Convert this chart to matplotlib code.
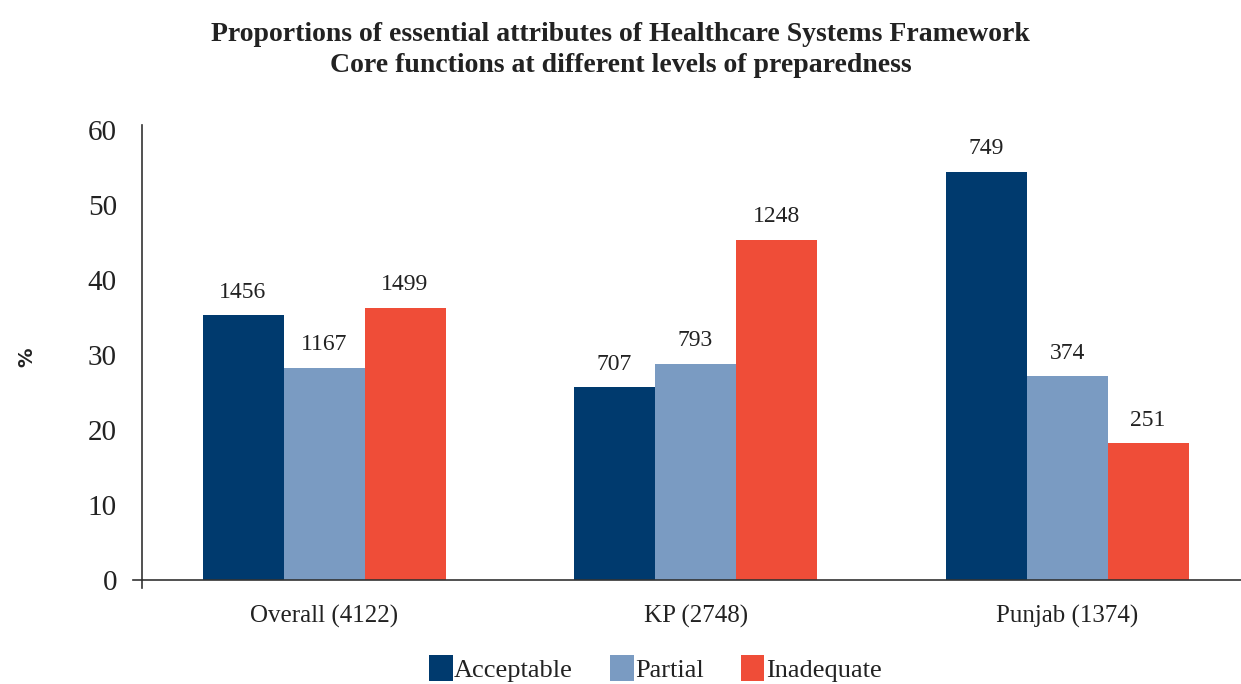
import matplotlib
matplotlib.use("Agg")
import matplotlib.pyplot as plt
import numpy as np

categories = ["Overall (4122)", "KP (2748)", "Punjab (1374)"]
totals = [4122, 2748, 1374]
series_names = ["Acceptable", "Partial", "Inadequate"]
acceptable_n = [1456, 707, 749]
partial_n = [1167, 793, 374]
inadequate_n = [1499, 1248, 251]
colors = ["#003a6e", "#7a9bc2", "#ef4d38"]
yticks = [0, 10, 20, 30, 40, 50, 60]

title = ("Proportions of essential attributes of Healthcare Systems Framework\n"
         "Core functions at different levels of preparedness")

serif = ["Liberation Serif", "DejaVu Serif"]
text_color = "#222222"

fig = plt.figure(figsize=(12.41, 6.84), dpi=100)
ax = fig.add_axes([0.1144, 0.152, 0.8856, 0.665])

x = np.arange(len(categories))
width = 0.218
counts = [acceptable_n, partial_n, inadequate_n]
for i, (name, c, col) in enumerate(zip(series_names, counts, colors)):
    pct = np.array(c) / np.array(totals) * 100
    bars = ax.bar(x + (i - 1) * width, pct, width, color=col, label=name)
    ax.bar_label(bars, labels=[str(v) for v in c], padding=9,
                 fontsize=17, family=serif, color=text_color)

ax.set_xlim(-0.49, 2.468)
ax.set_ylim(0, 60.7)
ax.set_yticks(yticks)
ax.set_yticklabels([str(t) for t in yticks], family=serif, fontsize=21, color=text_color)
ax.set_xticks(x)
ax.set_xticklabels(categories, family=serif, fontsize=18, color=text_color)
ax.tick_params(axis="both", length=0)
ax.tick_params(axis="y", pad=18)
ax.tick_params(axis="x", pad=18)
for s in ["top", "right"]:
    ax.spines[s].set_visible(False)
for s in ["left", "bottom"]:
    ax.spines[s].set_color("#333333")
    ax.spines[s].set_linewidth(1.2)
# small spine overhangs at the origin
ax.plot([-0.515, -0.49], [0, 0], color="#333333", lw=1.2, clip_on=False)
ax.plot([-0.49, -0.49], [0, -1.1], color="#333333", lw=1.2, clip_on=False)

fig.text(0.022, 0.478, "%", family="DejaVu Sans", fontweight="bold", fontsize=14,
         color=text_color, rotation=90, ha="center", va="center")

fig.suptitle(title, family=serif, fontweight="bold", fontsize=20,
             color=text_color, y=0.968, x=0.5, linespacing=1.3)

leg = fig.legend(loc="lower center", bbox_to_anchor=(0.528, -0.032), ncol=3,
                 frameon=False, prop={"family": serif, "size": 19},
                 handlelength=0.9, handleheight=1.1, handletextpad=0.05,
                 columnspacing=1.4)
for t in leg.get_texts():
    t.set_color(text_color)

fig.savefig("out.png", dpi=100)
